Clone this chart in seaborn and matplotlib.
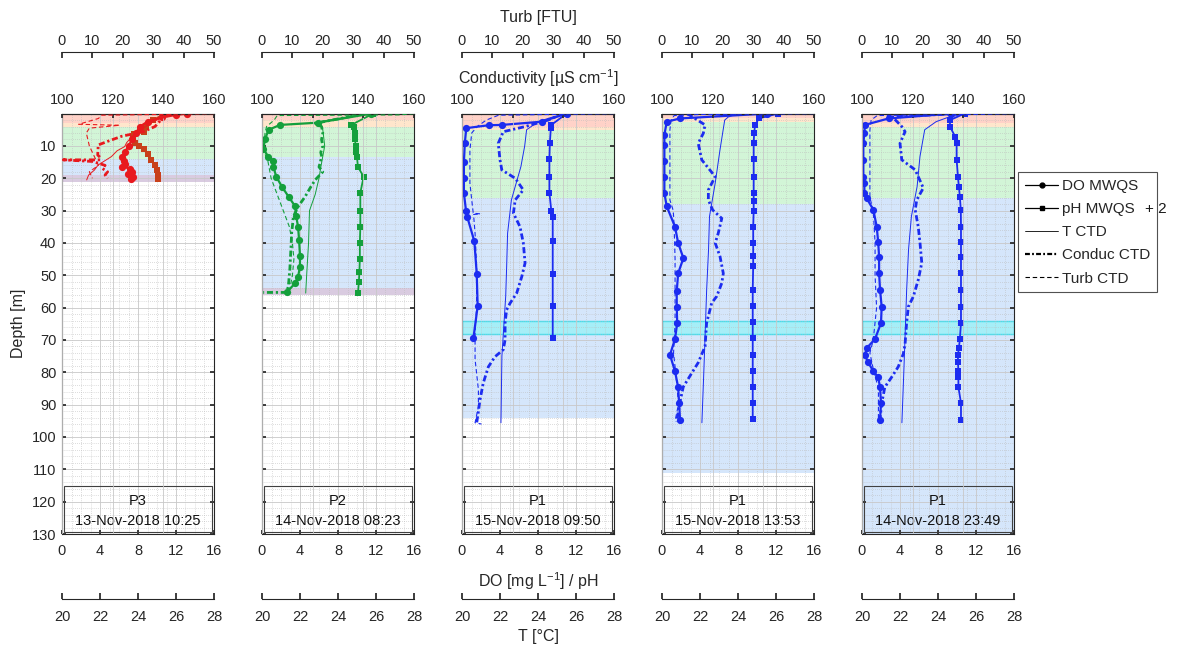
import numpy as np
import matplotlib
matplotlib.use('Agg')
import matplotlib.pyplot as plt
import seaborn as sns
import pandas as pd
from matplotlib.ticker import MultipleLocator
from matplotlib.lines import Line2D
from matplotlib.patches import Rectangle


# ---- P3, 13-Nov-2018 10:25 (red) ----
p3_do_depth = [0, 0.4, 1.2, 2.5, 4, 6, 8, 10, 12, 13.5, 14.6, 15.5, 16.4, 17, 18, 18.8, 19.7, 20.3]
p3_do = [13.2, 12.0, 10.5, 9.0, 8.2, 7.8, 7.4, 7.0, 6.6, 6.3, 6.5, 6.6, 6.3, 7.2, 7.4, 6.9, 7.5, 7.3]
p3_ph_depth = [0, 2, 4, 5.6, 6.2, 7.5, 9, 10, 11, 12.5, 14.3, 16, 17.4, 19, 20.3]
p3_ph = [10.8, 9.6, 8.8, 8.6, 7.6, 7.5, 7.7, 8.1, 8.6, 9.0, 9.4, 9.8, 10.0, 10.1, 10.15]
p3_t_depth = [0, 1, 2.5, 4, 5.5, 7, 9, 10.2, 11.5, 13.3, 15.9, 17.5, 19, 20.5]
p3_t = [25.8, 25.4, 24.8, 24.4, 24.0, 23.7, 23.4, 23.3, 22.9, 22.6, 21.9, 21.7, 21.4, 21.3]
p3_c_depth = [0, 2, 4, 5.6, 7, 8.5, 9.7, 12.8, 13.5, 14.3, 14.3, 14.8, 16, 17, 18, 19, 20]
p3_c = [140.7, 139, 136.7, 132.1, 123.6, 118.3, 114.3, 114.1, 115, 115, 100.5, 112, 117, 116, 118, 117, 118]
p3_u_depth = [0, 0.3, 0.5, 1.5, 3.3, 3.6, 4.5, 6, 8, 10, 12, 14, 16, 18, 20]
p3_u = [50, 30, 13, 12, 5.5, 19, 9, 8, 8.5, 9, 10, 11, 12, 9, 10]

# ---- P2, 14-Nov-2018 08:23 (green) ----
p2_do_depth = [0, 2.8, 3.5, 5, 8, 11, 13.3, 14.8, 16.4, 19.5, 22.6, 25.7, 28.7, 31.8, 35, 39, 44, 47.3, 50.4, 52.4, 55.3]
p2_do = [11.5, 5.9, 1.9, 0.7, 0.3, 0.15, 0.67, 1.2, 1.2, 1.5, 2.1, 2.8, 3.5, 3.6, 3.8, 3.9, 4.0, 4.0, 3.8, 3.5, 2.6]
p2_ph_depth = [0, 3.5, 4, 6, 8, 10, 12, 13.5, 16.5, 19.5, 24.5, 30, 35, 40, 45, 49, 52, 55.5]
p2_ph = [11.7, 9.4, 9.7, 9.8, 9.8, 9.85, 9.9, 10.0, 10.1, 10.7, 10.35, 10.35, 10.35, 10.3, 10.3, 10.25, 10.2, 10.1]
p2_t_depth = [0, 1, 2.5, 5, 10, 16.4, 20, 25, 30, 40, 50, 55.5]
p2_t = [25.8, 24.5, 23.0, 23.2, 23.3, 23.1, 23.0, 22.8, 22.5, 22.45, 22.35, 22.3]
p2_c_depth = [0, 3, 4, 6, 8, 10, 12, 13.3, 15, 16.5, 18, 20.5, 23, 25.7, 28.7, 31.8, 37, 42, 48, 53.5, 55.3, 55.3]
p2_c = [141, 121, 123.5, 124, 123.5, 124, 123.2, 123.6, 123, 122.5, 124, 121, 119, 117, 114.3, 112.4, 111.7, 111.4, 111, 110.4, 109.6, 100.5]
p2_u_depth = [0, 0.4, 0.6, 2, 4, 6, 8, 10, 12, 15, 20, 25, 30, 35, 40, 45, 50, 55]
p2_u = [50, 45, 5, 4, 1.5, 1.0, 0.8, 0.6, 0.8, 2, 3, 5, 7, 9, 10, 10.5, 10, 9]

# ---- P1, 15-Nov-2018 09:50 (blue) ----
p1a_do_depth = [0, 2.5, 3.5, 3.6, 4.5, 9, 15, 20, 24.5, 30, 32, 39.5, 49.5, 59.5, 69.5]
p1a_do = [11.0, 8.4, 4.2, 2.8, 0.45, 0.3, 0.2, 0.2, 0.2, 0.42, 0.56, 1.3, 1.55, 1.65, 1.2]
p1a_ph_depth = [0, 3.5, 4.5, 9, 14, 19.5, 24.5, 30, 32, 39.5, 49.5, 59.5, 69.5]
p1a_ph = [11.0, 9.4, 9.35, 9.25, 9.2, 9.2, 9.2, 9.4, 9.55, 9.55, 9.55, 9.55, 9.55]
p1a_t_depth = [0, 1, 2.5, 5, 10, 16.4, 20.5, 26.7, 37, 47.3, 56.5, 75, 95.6]
p1a_t = [25.5, 24.8, 24.0, 23.4, 23.3, 23.1, 22.9, 22.6, 22.4, 22.35, 22.3, 22.1, 22.05]
p1a_c_depth = [0, 2, 4, 5.6, 9.2, 14.3, 17.4, 20, 23.6, 26.7, 30.8, 35, 40, 46.2, 50.4, 55.5,
               58.6, 60.7, 64.8, 70, 73, 75.2, 78.3, 83.3, 88.5, 92.5, 95.6]
p1a_c = [140, 134, 125, 116.3, 114.3, 115, 115.7, 121, 124.2, 121, 120.3, 122.9, 124.2, 124.9, 123.6, 121.6,
         119, 117.6, 117, 117, 116.3, 113, 110.4, 108.4, 107.1, 106.4, 105.8]
p1a_u_depth = [0, 0.2, 0.5, 2, 4, 6, 11.3, 16.4, 21.5, 26.7, 30.8, 31, 31.2, 37, 47, 59.7, 67.8, 76, 85.4, 90.6, 95.6, 96]
p1a_u = [50, 34, 12, 8, 5, 3.2, 2.6, 2.6, 2.6, 3.2, 3.7, 6, 3.8, 4.3, 4.8, 4.8, 4.3, 4.3, 5.4, 5.4, 4.3, 6.4]

# ---- P1, 15-Nov-2018 13:53 (blue) ----
p1b_do_depth = [0, 1.5, 2.5, 6.6, 9.7, 14.8, 19.5, 24.6, 28.7, 35, 40, 44.7, 49.4, 55, 59.7, 64.8,
                69.7, 74.6, 79.7, 84.6, 89.5, 94.7]
p1b_do = [11.0, 1.9, 0.5, 0.25, 0.25, 0.25, 0.25, 0.25, 0.5, 1.37, 1.7, 2.25, 1.7, 1.55, 1.55, 1.6,
          1.37, 0.84, 1.37, 1.7, 1.8, 1.9]
p1b_ph_depth = [0, 1.5, 3.5, 6, 9, 14, 19.5, 24.5, 27, 30, 35, 40, 44, 47, 54.5, 59.5, 64.5, 69.5,
                74.5, 79.5, 84.5, 89.5, 94.5]
p1b_ph = [12.2, 10.2, 9.8, 9.7, 9.65, 9.65, 9.65, 9.65, 9.65, 9.65, 9.6, 9.6, 9.6, 9.6, 9.55, 9.55,
          9.55, 9.55, 9.55, 9.55, 9.55, 9.55, 9.55]
p1b_t_depth = [0, 1, 2, 11.3, 21.5, 31.8, 42, 54.5, 70, 80, 95.6]
p1b_t = [24.0, 23.5, 23.3, 23.05, 22.8, 22.5, 22.45, 22.35, 22.26, 22.2, 22.1]
p1b_c_depth = [0, 1, 3.5, 6.1, 9.2, 14.3, 19.5, 23.6, 26.7, 29.8, 32.4, 37, 40, 44.2, 49.4, 52.4,
               56.5, 58.6, 64.8, 72, 77, 80.3, 84.5, 89.5, 95.3]
p1b_c = [110, 112, 117, 116.3, 114.3, 115.7, 121, 118.3, 118.3, 120, 123.6, 122.2, 121, 122.9, 124.2, 123.6,
         121.6, 119.6, 117.6, 117, 114.3, 111.7, 108.4, 107, 105.8]
p1b_u_depth = [0, 0.3, 0.6, 2, 5, 10, 15, 20, 26.7, 30, 35, 45, 55, 65, 74, 80, 85, 90, 95]
p1b_u = [50, 12, 4, 3, 2.6, 2.6, 2.6, 2.6, 2.6, 3.7, 4.0, 4.3, 4.3, 4.3, 3.8, 4.5, 5.0, 5.4, 4.3]

# ---- P1, 14-Nov-2018 23:49 (blue) ----
p1c_do_depth = [0, 1.5, 3.5, 6.1, 9.2, 14.3, 19.5, 21.5, 24.6, 26.2, 29.8, 35, 39.6, 44.2, 49.4, 54.5,
                59.7, 64.8, 69.7, 72.5, 74.6, 76.7, 79.7, 81.5, 84.6, 89.5, 94.7]
p1c_do = [9.4, 2.8, 0.3, 0.25, 0.14, 0.14, 0.14, 0.25, 0.25, 0.5, 1.2, 1.55, 1.7, 1.8, 1.8, 1.9,
          2.07, 2.0, 1.37, 0.5, 0.3, 0.6, 1.2, 1.7, 1.9, 2.0, 1.9]
p1c_ph_depth = [0, 2, 4, 7.1, 9.2, 14.3, 19.5, 22.6, 25.7, 29.8, 35, 39.6, 44.2, 49.4, 54.5, 59.7,
                64.8, 69.7, 72.5, 74.6, 76.7, 79.7, 81.5, 84.6, 89.5, 94.7]
p1c_ph = [10.8, 9.26, 9.26, 9.8, 9.96, 9.96, 10.1, 10.2, 10.3, 10.4, 10.42, 10.42, 10.42, 10.42, 10.42, 10.42,
          10.42, 10.3, 10.2, 10.1, 10.1, 10.15, 10.15, 10.15, 10.42, 10.42]
p1c_t_depth = [0, 1, 2.5, 5, 13.3, 22.6, 31.8, 42, 54.5, 70, 80, 95.6]
p1c_t = [25.6, 24.6, 23.9, 23.3, 23.05, 22.9, 22.6, 22.45, 22.35, 22.26, 22.2, 22.1]
p1c_c_depth = [0, 1, 4, 5.6, 9.2, 14.3, 17.4, 23, 26.7, 29.8, 35, 40, 46.2, 51.4, 56.5, 59.7, 64.8,
               71.3, 74.3, 78.3, 81.5, 84.6, 89.5, 94.7]
p1c_c = [138, 112, 115.7, 117, 115, 115.7, 121, 124.2, 121.6, 121, 122.2, 122.9, 123.6, 122.2, 120.3, 118.3, 117.6,
         117, 116.3, 114.3, 111.7, 109, 107.8, 107.1]
p1c_u_depth = [0, 0.3, 0.6, 2, 5, 10, 20, 26, 30, 40, 50, 60, 70, 74, 79, 85, 95]
p1c_u = [50, 34, 5, 3, 2.6, 2.6, 2.6, 2.6, 3.7, 4.3, 4.3, 4.8, 3.7, 2.6, 3.7, 5.4, 5.4]

# layer bands (top depth, bottom depth, layer)
p3_bands = [(0, 3, 'red'), (3, 4, 'orange'), (4, 14, 'green'), (14, 19, 'blue'), (19, 21, 'purple')]
p2_bands = [(0, 2, 'red'), (2, 4, 'orange'), (4, 13.5, 'green'), (13.5, 54, 'blue'), (54, 56, 'purple')]
p1a_bands = [(0, 4, 'red'), (4, 5, 'orange'), (5, 26, 'green'), (26, 94, 'blue'), (64, 68, 'cyan')]
p1b_bands = [(0, 1.5, 'red'), (1.5, 2.5, 'orange'), (2.5, 28, 'green'), (28, 111, 'blue'), (64, 68, 'cyan')]
p1c_bands = [(0, 3, 'red'), (3, 4, 'orange'), (4, 26, 'green'), (26, 130, 'blue'), (64, 68, 'cyan')]

sites = ['P3', 'P2', 'P1', 'P1', 'P1']
stamps = ['13-Nov-2018 10:25', '14-Nov-2018 08:23', '15-Nov-2018 09:50',
          '15-Nov-2018 13:53', '14-Nov-2018 23:49']

band_colors = {'red': '#ffd2c8', 'orange': '#ffe6cc', 'green': '#d2f5d7', 'blue': '#d5e6fb',
               'purple': '#d9cbe0', 'cyan': '#a6eef7'}
panel_colors = ['#e8191e', '#14a03c', '#1c2cf0', '#1c2cf0', '#1c2cf0']
ph_colors = ['#c8401a', '#14a03c', '#1c2cf0', '#1c2cf0', '#1c2cf0']

profiles = [
    (p3_do_depth, p3_do, p3_ph_depth, p3_ph, p3_t_depth, p3_t, p3_c_depth, p3_c, p3_u_depth, p3_u, p3_bands),
    (p2_do_depth, p2_do, p2_ph_depth, p2_ph, p2_t_depth, p2_t, p2_c_depth, p2_c, p2_u_depth, p2_u, p2_bands),
    (p1a_do_depth, p1a_do, p1a_ph_depth, p1a_ph, p1a_t_depth, p1a_t, p1a_c_depth, p1a_c, p1a_u_depth, p1a_u, p1a_bands),
    (p1b_do_depth, p1b_do, p1b_ph_depth, p1b_ph, p1b_t_depth, p1b_t, p1b_c_depth, p1b_c, p1b_u_depth, p1b_u, p1b_bands),
    (p1c_do_depth, p1c_do, p1c_ph_depth, p1c_ph, p1c_t_depth, p1c_t, p1c_c_depth, p1c_c, p1c_u_depth, p1c_u, p1c_bands),
]

sns.set_theme(style='white')
plt.rcParams['font.family'] = ['Liberation Sans', 'DejaVu Sans']
plt.rcParams['mathtext.fontset'] = 'custom'
plt.rcParams['mathtext.rm'] = 'Liberation Sans'
plt.rcParams['mathtext.default'] = 'regular'
plt.rcParams['axes.edgecolor'] = '#262626'
plt.rcParams['axes.linewidth'] = 0.8
plt.rcParams['xtick.color'] = '#262626'
plt.rcParams['ytick.color'] = '#262626'

TICK_FS = 10.5
LABEL_FS = 11.5
LEG_FS = 11
COND_DASH = (0, (2.2, 1.0, 0.8, 1.0))
TURB_DASH = (0, (4, 2.5))


def keep_spine(a, name):
    for s in ['top', 'bottom', 'left', 'right']:
        a.spines[s].set_visible(s == name)
    a.patch.set_visible(False)


def line(a, x, y, **kw):
    sns.lineplot(x=x, y=y, sort=False, estimator=None, ax=a, legend=False, **kw)


fig = plt.figure(figsize=(11.79, 6.48), dpi=100)

for i, prof in enumerate(profiles):
    do_d, do_v, ph_d, ph_v, t_d, t_v, c_d, c_v, u_d, u_v, bands = prof
    col = panel_colors[i]
    rect = [(62 + 200 * i) / 1179, 114 / 648, 152 / 1179, 420.4 / 648]
    ax = fig.add_axes(rect)
    ax.set_facecolor('white')

    for top, bot, name in bands:
        if name == 'cyan':
            ax.axhspan(top, bot, facecolor=band_colors[name], edgecolor='#3fe3f2', lw=1.0, zorder=0.5)
        else:
            ax.axhspan(top, bot, facecolor=band_colors[name], lw=0, zorder=0.2)

    # DO and pH (+2) on the main bottom axis
    line(ax, ph_v, ph_d, color=ph_colors[i], lw=1.3, marker='s', markersize=4.2, markeredgewidth=0)
    line(ax, do_v, do_d, color=col, lw=1.6, marker='o', markersize=5.2, markeredgewidth=0)

    ax.set_xlim(0, 16)
    ax.set_ylim(130, 0)
    ax.set_xticks([0, 4, 8, 12, 16])
    ax.set_yticks(np.arange(10, 131, 10))
    ax.xaxis.set_minor_locator(MultipleLocator(1))
    ax.yaxis.set_minor_locator(MultipleLocator(2))
    ax.grid(which='major', color='#c8c8c8', lw=0.6)
    ax.grid(which='minor', color='#bcbcbc', lw=0.5, ls=(0, (1, 2)))
    ax.set_axisbelow(True)
    ax.tick_params(axis='both', which='major', direction='in', length=3, labelsize=TICK_FS)
    ax.tick_params(axis='x', pad=7)
    ax.tick_params(axis='y', pad=4)
    ax.tick_params(axis='both', which='minor', length=0)
    ax.tick_params(axis='y', left=True, right=True, labelleft=(i == 0))
    ax.tick_params(axis='x', bottom=True, top=False)
    ax.set_xlabel('')
    ax.set_ylabel('')
    if i == 0:
        ax.set_ylabel('Depth [m]', fontsize=LABEL_FS, labelpad=4)
    if i == 2:
        ax.set_xlabel('DO [mg L$^{-1}$] / pH', fontsize=LABEL_FS, labelpad=9)

    # conductivity on top axis
    ax_c = ax.twiny()
    keep_spine(ax_c, 'top')
    line(ax_c, c_v, c_d, color=col, lw=2.0, ls=COND_DASH)
    ax_c.set_xlim(100, 160)
    ax_c.set_xticks([100, 120, 140, 160])
    ax_c.grid(axis='x', which='major', color='#c8c8c8', lw=0.6)
    ax_c.tick_params(axis='x', direction='in', length=3, labelsize=TICK_FS, pad=5)
    ax_c.set_xlabel('')
    ax_c.set_ylabel('')
    if i == 2:
        ax_c.set_xlabel('Conductivity [µS cm$^{-1}$]', fontsize=LABEL_FS, labelpad=6)

    # temperature on offset bottom axis
    ax_t = ax.twiny()
    keep_spine(ax_t, 'bottom')
    ax_t.xaxis.set_ticks_position('bottom')
    ax_t.xaxis.set_label_position('bottom')
    ax_t.spines['bottom'].set_position(('outward', 47))
    line(ax_t, t_v, t_d, color=col, lw=0.7)
    ax_t.set_xlim(20, 28)
    ax_t.set_xticks([20, 22, 24, 26, 28])
    ax_t.tick_params(axis='x', direction='in', length=4, labelsize=TICK_FS, pad=8)
    ax_t.set_xlabel('')
    ax_t.set_ylabel('')
    if i == 2:
        ax_t.set_xlabel('T [°C]', fontsize=LABEL_FS, labelpad=3)

    # turbidity on offset top axis
    ax_u = ax.twiny()
    keep_spine(ax_u, 'top')
    ax_u.spines['top'].set_position(('outward', 44))
    line(ax_u, u_v, u_d, color=col, lw=0.8, ls=TURB_DASH)
    ax_u.set_xlim(0, 50)
    ax_u.set_xticks([0, 10, 20, 30, 40, 50])
    ax_u.tick_params(axis='x', direction='in', length=4, labelsize=TICK_FS, pad=3)
    ax_u.set_xlabel('')
    ax_u.set_ylabel('')
    if i == 2:
        ax_u.set_xlabel('Turb [FTU]', fontsize=LABEL_FS, labelpad=9)

    for a in (ax_c, ax_t, ax_u):
        a.set_ylim(130, 0)

    # station box
    ax.add_patch(Rectangle((0.01, 0.004), 0.976, 0.11, transform=ax.transAxes, fill=False,
                           edgecolor='#404040', lw=0.8, zorder=5))
    ax.text(0.5, 0.078, sites[i], transform=ax.transAxes, ha='center', va='center',
            fontsize=TICK_FS, color='#111111', zorder=6)
    ax.text(0.5, 0.032, stamps[i], transform=ax.transAxes, ha='center', va='center',
            fontsize=TICK_FS, color='#111111', zorder=6)

handles = [
    Line2D([], [], color='black', lw=0.9, marker='o', markersize=3.5),
    Line2D([], [], color='black', lw=0.9, marker='s', markersize=3),
    Line2D([], [], color='black', lw=0.6),
    Line2D([], [], color='black', lw=1.6, ls=COND_DASH),
    Line2D([], [], color='black', lw=0.8, ls=TURB_DASH),
]
labels = ['DO MWQS', 'pH MWQS', 'T CTD', 'Conduc CTD', 'Turb CTD']
leg = fig.legend(handles, labels, loc='upper left', bbox_to_anchor=(1018 / 1179, 1 - 172 / 648),
                 borderaxespad=0, frameon=True, fancybox=False, fontsize=LEG_FS,
                 handlelength=2.2, handletextpad=0.2, labelspacing=0.6, borderpad=0.45)
leg.get_frame().set_edgecolor('#262626')
leg.get_frame().set_linewidth(0.8)

# the "+ 2" note runs past the legend frame, as in the original
fig.canvas.draw()
renderer = fig.canvas.get_renderer()
bb = leg.get_texts()[1].get_window_extent(renderer)
fig.text((bb.x1 + 11) / fig.bbox.width, (bb.y0 + bb.y1) / 2 / fig.bbox.height, '+ 2',
         ha='left', va='center', fontsize=LEG_FS, color='#1a1a1a', zorder=10)

fig.savefig('out.png', dpi=100)
